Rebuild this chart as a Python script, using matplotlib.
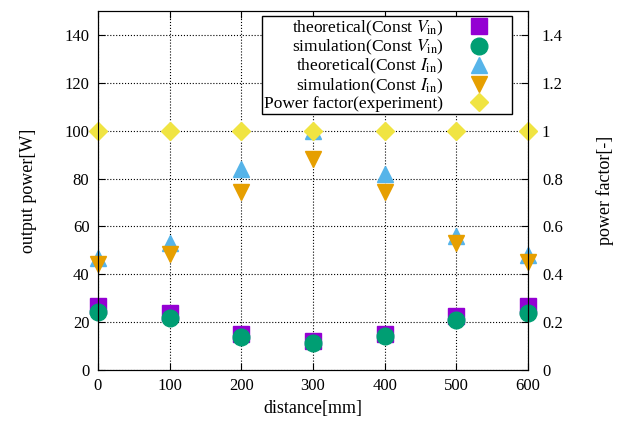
import matplotlib.pyplot as plt

distance = [0, 100, 200, 300, 400, 500, 600]
theo_v = [26.7, 23.8, 15.0, 12.0, 15.0, 22.5, 26.7]
sim_v = [24.2, 21.7, 13.8, 11.3, 14.2, 20.8, 23.8]
theo_i = [47.0, 53.0, 84.0, 100.0, 82.0, 56.0, 48.0]
sim_i = [44.5, 48.3, 74.6, 88.3, 74.6, 53.0, 45.0]
power_factor = [1.0, 1.0, 1.0, 1.0, 1.0, 1.0, 1.0]

plt.rcParams["font.family"] = "Liberation Serif"
plt.rcParams["font.size"] = 12
plt.rcParams["mathtext.fontset"] = "stix"

fig = plt.figure(figsize=(6.19, 4.23), dpi=100)
ax = fig.add_axes([0.158, 0.125, 0.695, 0.849])
ax2 = ax.twinx()

h1, = ax.plot(distance, theo_v, "s", color="#9400d3", markersize=12, label=r"theoretical(Const $V_{\mathrm{in}}$)")
h2, = ax.plot(distance, sim_v, "o", color="#009e73", markersize=12, label=r"simulation(Const $V_{\mathrm{in}}$)")
h3, = ax.plot(distance, theo_i, "^", color="#56b4e9", markersize=11, label=r"theoretical(Const $I_{\mathrm{in}}$)")
h4, = ax.plot(distance, sim_i, "v", color="#e69f00", markersize=11, label=r"simulation(Const $I_{\mathrm{in}}$)")
h5, = ax2.plot(distance, power_factor, "D", color="#f0e442", markersize=9, label="Power factor(experiment)")

for h in (h1, h2, h3, h4, h5):
    h.set_clip_on(False)

ax.set_xlim(0, 600)
ax.set_ylim(0, 150)
ax2.set_ylim(0, 1.5)
ax.set_xticks(distance)
ax.set_yticks(range(0, 141, 20))
ax2.set_yticks([0, 0.2, 0.4, 0.6, 0.8, 1.0, 1.2, 1.4])
ax2.set_yticklabels(["0", "0.2", "0.4", "0.6", "0.8", "1", "1.2", "1.4"])

ax.tick_params(direction="in", top=True, length=5, pad=6)
ax2.tick_params(direction="in", length=5, pad=10)
ax.grid(color="black", linestyle=":", linewidth=0.8)

ax.set_xlabel("distance[mm]", fontsize=13)
ax.set_ylabel("output power[W]", fontsize=13, labelpad=20)
ax2.set_ylabel("power factor[-]", fontsize=13, labelpad=24)

leg = ax2.legend(handles=[h1, h2, h3, h4, h5], loc="upper right", bbox_to_anchor=(0.975, 1.0),
                 markerfirst=False, fancybox=False, framealpha=1, edgecolor="black",
                 handlelength=3.5, labelspacing=0.0, borderpad=0.15, handletextpad=0.3,
                 borderaxespad=0.3, fontsize=12.5)
for t in leg.get_texts():
    t.set_ha("right")
leg.get_frame().set_linewidth(1)

fig.savefig("out.png", dpi=100)
